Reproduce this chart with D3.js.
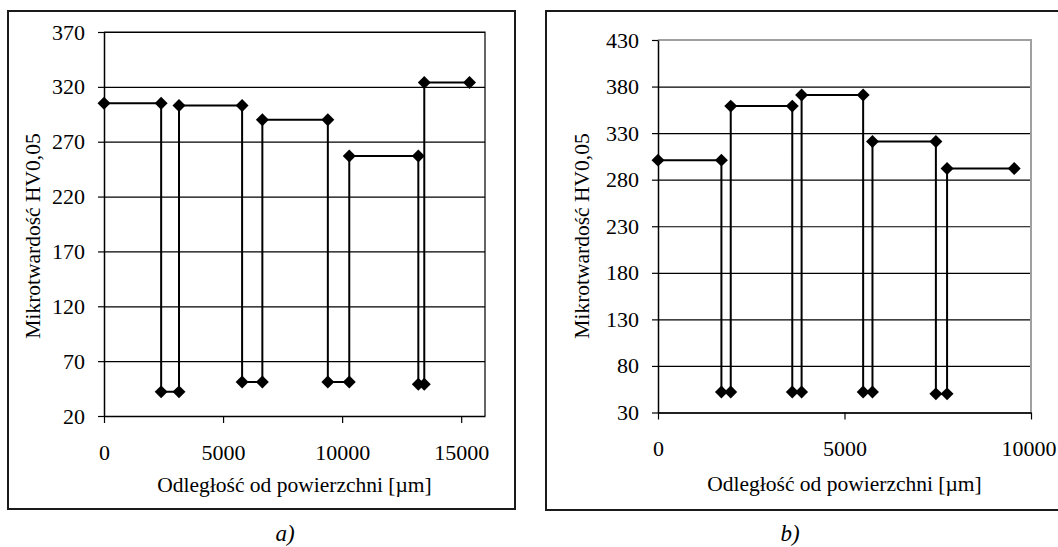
<!DOCTYPE html>
<html>
<head>
<meta charset="utf-8">
<script src="https://cdn.jsdelivr.net/npm/d3@7"></script>
<style>
  html, body { margin: 0; padding: 0; background: #fff; }
  svg { display: block; }
</style>
</head>
<body>
<script>
// chart a)
const distA = [0, 2400, 2400, 3150, 3150, 5800, 5800, 6650, 6650, 9400, 9400, 10300, 10300, 13200, 13200, 13450, 13450, 15350];
const hvA = [305, 305, 42, 42, 303, 303, 51, 51, 290, 290, 51, 51, 257, 257, 49, 49, 324, 324];
const xTicksA = [0, 5000, 10000, 15000];
const yTicksA = [20, 70, 120, 170, 220, 270, 320, 370];

// chart b)
const distB = [0, 1700, 1700, 1950, 1950, 3600, 3600, 3850, 3850, 5500, 5500, 5750, 5750, 7450, 7450, 7750, 7750, 9550];
const hvB = [301, 301, 52, 52, 359, 359, 52, 52, 371, 371, 52, 52, 321, 321, 50, 50, 292, 292];
const xTicksB = [0, 5000, 10000];
const yTicksB = [30, 80, 130, 180, 230, 280, 330, 380, 430];

const xTitle = "Odległość od powierzchni [µm]";
const yTitle = "Mikrotwardość HV0,05";

const width = 1058;
const height = 547;
const font = "'Liberation Serif', 'Times New Roman', serif";
const tickSize = "22px";
const titleSize = "21.5px";

const svg = d3.select("body").append("svg")
    .attr("width", width)
    .attr("height", height)
    .style("font-family", font);

function drawChart(o) {
  const x = d3.scaleLinear().domain(o.xDomain).range([o.left, o.right]);
  const y = d3.scaleLinear().domain(o.yDomain).range([o.bottom, o.top]);

  // outer frame
  svg.append("rect")
      .attr("x", o.box[0]).attr("y", o.box[1])
      .attr("width", o.box[2] - o.box[0]).attr("height", o.box[3] - o.box[1])
      .attr("fill", "none")
      .attr("stroke", "#1a1a1a")
      .attr("stroke-width", 2);

  // gridlines
  svg.append("g")
      .attr("transform", `translate(${o.left},0)`)
      .call(d3.axisLeft(y).tickValues(o.yTicks).tickSize(-(o.right - o.left)).tickFormat(""))
      .call(g => g.select(".domain").remove())
      .call(g => g.selectAll("line").attr("stroke", "#000").attr("stroke-width", 1.2));

  // plot area border (top & right)
  svg.append("path")
      .attr("d", `M${o.left},${o.top}H${o.right}V${o.bottom}`)
      .attr("fill", "none")
      .attr("stroke", o.plotBorder)
      .attr("stroke-width", o.plotBorderWidth);

  const yAxis = svg.append("g")
      .attr("transform", `translate(${o.left},0)`)
      .call(d3.axisLeft(y).tickValues(o.yTicks).tickSize(6).tickPadding(13).tickSizeOuter(0)
        .tickFormat(d3.format("d")));

  const xAxis = svg.append("g")
      .attr("transform", `translate(0,${o.bottom})`)
      .call(d3.axisBottom(x).tickValues(o.xTicks).tickSize(7).tickPadding(21).tickSizeOuter(0)
        .tickFormat(d3.format("d")));

  [yAxis, xAxis].forEach(a => {
    a.selectAll(".domain").attr("stroke", "#000").attr("stroke-width", 1.5);
    a.selectAll(".tick line").attr("stroke", "#000").attr("stroke-width", 1.2);
    a.selectAll("text")
        .attr("fill", "#000")
        .style("font-family", font)
        .style("font-size", tickSize);
  });

  // keep the last x label inside the page
  xAxis.selectAll(".tick text").each(function(d) {
    const b = this.getBBox();
    const right = x(d) + b.x + b.width;
    if (right > width - 2) d3.select(this).attr("dx", width - 2 - right);
  });

  // series
  const pts = o.xs.map((d, i) => [d, o.ys[i]]);
  svg.append("path")
      .datum(pts)
      .attr("fill", "none")
      .attr("stroke", "#000")
      .attr("stroke-width", 2)
      .attr("d", d3.line().x(d => x(d[0])).y(d => y(d[1])));

  svg.append("g")
    .selectAll("path")
    .data(pts)
    .join("path")
      .attr("d", d3.symbol(d3.symbolSquare, 84))
      .attr("transform", d => `translate(${x(d[0])},${y(d[1])}) rotate(45)`)
      .attr("fill", "#000");

  // titles
  svg.append("text")
      .attr("x", (o.left + o.right) / 2)
      .attr("y", o.xTitleY)
      .attr("text-anchor", "middle")
      .style("font-size", titleSize)
      .text(xTitle);

  svg.append("text")
      .attr("transform", `translate(${o.yTitleX},${o.yTitleMid}) rotate(-90)`)
      .attr("text-anchor", "middle")
      .style("font-size", titleSize)
      .text(yTitle);

  svg.append("text")
      .attr("x", o.captionX)
      .attr("y", 541)
      .attr("text-anchor", "middle")
      .style("font-size", "23px")
      .style("font-style", "italic")
      .text(o.caption);
}

drawChart({
  xs: distA, ys: hvA, xTicks: xTicksA, yTicks: yTicksA,
  xDomain: [0, 16000], yDomain: [20, 370],
  left: 104, right: 485, top: 32, bottom: 416,
  box: [8, 11, 515, 509],
  plotBorder: "#000", plotBorderWidth: 1.2,
  xTitleY: 492, yTitleX: 40, yTitleMid: 236,
  caption: "a)", captionX: 285
});

drawChart({
  xs: distB, ys: hvB, xTicks: xTicksB, yTicks: yTicksB,
  xDomain: [0, 10000], yDomain: [30, 430],
  left: 658, right: 1031, top: 40, bottom: 412.5,
  box: [546, 11, 1070, 510],
  plotBorder: "#a0a0a0", plotBorderWidth: 2,
  xTitleY: 491, yTitleX: 589, yTitleMid: 236,
  caption: "b)", captionX: 790
});
</script>
</body>
</html>
